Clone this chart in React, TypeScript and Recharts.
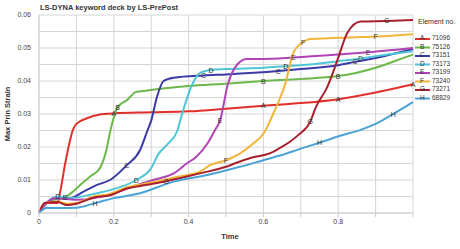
import { LineChart, Line, XAxis, YAxis, CartesianGrid } from "recharts";

// [time, max principal strain] per element
const seriesA = [
  [0, 0], [0.02, 0.003], [0.05, 0.003], [0.056, 0.006], [0.07, 0.015], [0.083, 0.022],
  [0.09, 0.025], [0.1, 0.027], [0.13, 0.0288], [0.16, 0.0298], [0.2, 0.0302], [0.3, 0.0305],
  [0.4, 0.0308], [0.5, 0.0316], [0.6, 0.0325], [0.7, 0.0333], [0.8, 0.0345], [0.9, 0.0365], [1, 0.039],
];
const seriesB = [
  [0, 0], [0.02, 0.003], [0.04, 0.004], [0.07, 0.0048], [0.09, 0.0064], [0.11, 0.0085],
  [0.136, 0.011], [0.163, 0.0136], [0.18, 0.019], [0.19, 0.0245], [0.2, 0.029], [0.21, 0.032],
  [0.235, 0.0342], [0.26, 0.0367], [0.28, 0.037], [0.32, 0.0376], [0.4, 0.0385], [0.5, 0.0392],
  [0.6, 0.04], [0.7, 0.0406], [0.8, 0.0415], [0.85, 0.0425], [0.9, 0.044], [0.95, 0.046], [1, 0.048],
];
const seriesC = [
  [0, 0], [0.02, 0.003], [0.04, 0.0045], [0.083, 0.0045], [0.118, 0.0064], [0.155, 0.0085],
  [0.19, 0.01], [0.235, 0.0145], [0.27, 0.019], [0.29, 0.025], [0.3, 0.028], [0.315, 0.035],
  [0.333, 0.04], [0.36, 0.041], [0.44, 0.0417], [0.5, 0.042], [0.64, 0.043], [0.7, 0.0436],
  [0.8, 0.0448], [0.845, 0.0458], [0.9, 0.047], [1, 0.0497],
];
const seriesD = [
  [0, 0], [0.02, 0.003], [0.05, 0.005], [0.08, 0.0045], [0.155, 0.006], [0.21, 0.0076],
  [0.26, 0.01], [0.3, 0.0136], [0.32, 0.018], [0.345, 0.021], [0.37, 0.025], [0.38, 0.029],
  [0.41, 0.039], [0.43, 0.0424], [0.46, 0.0433], [0.5, 0.0436], [0.6, 0.044], [0.66, 0.0445],
  [0.7, 0.0448], [0.8, 0.046], [0.86, 0.0468], [0.9, 0.0475], [1, 0.049],
];
const seriesE = [
  [0, 0], [0.02, 0.003], [0.04, 0.0045], [0.1, 0.004], [0.2, 0.006], [0.25, 0.008],
  [0.305, 0.01], [0.36, 0.012], [0.395, 0.015], [0.42, 0.017], [0.45, 0.021], [0.47, 0.025],
  [0.484, 0.028], [0.505, 0.039], [0.53, 0.045], [0.556, 0.0467], [0.6, 0.0467], [0.68, 0.0471],
  [0.8, 0.048], [0.88, 0.0487], [1, 0.05],
];
const seriesF = [
  [0, 0], [0.015, 0.003], [0.05, 0.0035], [0.075, 0.0028], [0.1, 0.003], [0.145, 0.005],
  [0.19, 0.0058], [0.235, 0.0078], [0.28, 0.0088], [0.32, 0.0097], [0.37, 0.011], [0.43, 0.0125],
  [0.457, 0.0145], [0.5, 0.016], [0.537, 0.018], [0.572, 0.021], [0.6, 0.024], [0.63, 0.031],
  [0.658, 0.039], [0.68, 0.0485], [0.706, 0.0518], [0.725, 0.0527], [0.86, 0.0533], [0.9, 0.0535], [1, 0.0542],
];
const seriesG = [
  [0, 0], [0.015, 0.003], [0.05, 0.0033], [0.075, 0.0024], [0.1, 0.0028], [0.145, 0.0046],
  [0.19, 0.0054], [0.235, 0.0074], [0.28, 0.0084], [0.34, 0.0096], [0.37, 0.0104], [0.43, 0.012],
  [0.5, 0.014], [0.53, 0.0153], [0.57, 0.0168], [0.62, 0.0182], [0.644, 0.0197], [0.67, 0.0215],
  [0.693, 0.0236], [0.725, 0.0276], [0.74, 0.032], [0.77, 0.038], [0.797, 0.046], [0.824, 0.0545],
  [0.86, 0.058], [0.93, 0.0582], [1, 0.0585],
];
const seriesH = [
  [0, 0], [0.02, 0.0015], [0.05, 0.0015], [0.1, 0.0016], [0.15, 0.003], [0.2, 0.0045],
  [0.27, 0.006], [0.36, 0.0095], [0.45, 0.0115], [0.537, 0.014], [0.6, 0.016], [0.644, 0.0174],
  [0.7, 0.0195], [0.75, 0.0213], [0.805, 0.0234], [0.86, 0.0252], [0.9, 0.027], [0.947, 0.03], [1, 0.0336],
];

const elements = [
  { letter: "A", id: "71096", color: "#e0302c", data: seriesA, marks: [0.2, 0.6, 0.8, 1] },
  { letter: "B", id: "75126", color: "#6cb84a", data: seriesB, marks: [0.07, 0.21, 0.6, 0.8] },
  { letter: "C", id: "73151", color: "#3a3aa6", data: seriesC, marks: [0.235, 0.44, 0.64, 0.845] },
  { letter: "D", id: "73173", color: "#4ec6d6", data: seriesD, marks: [0.05, 0.26, 0.46, 0.66, 0.86] },
  { letter: "E", id: "73199", color: "#b044b4", data: seriesE, marks: [0.484, 0.68, 0.88] },
  { letter: "F", id: "73240", color: "#f2b43a", data: seriesF, marks: [0.5, 0.706, 0.9] },
  { letter: "G", id: "73271", color: "#a8202e", data: seriesG, marks: [0.34, 0.725, 0.93] },
  { letter: "H", id: "68829", color: "#4aa2d6", data: seriesH, marks: [0.15, 0.75, 0.947] },
];

const xTicks = [0, 0.1, 0.2, 0.3, 0.4, 0.5, 0.6, 0.7, 0.8, 0.9, 1];
const yTicks = [0, 0.005, 0.01, 0.015, 0.02, 0.025, 0.03, 0.035, 0.04, 0.045, 0.05, 0.055, 0.06];

const font = "Arial, 'Liberation Sans', sans-serif";

const letterDot = (letter: string, marks: number[]) => (props: any) => {
  const { cx, cy, payload, index } = props;
  if (!marks.includes(payload.t)) return <g key={index} />;
  return (
    <text key={index} x={cx} y={cy} dy={2.5} fontSize={7} textAnchor="middle" fill="#333" fontFamily={font}>
      {letter}
    </text>
  );
};

export default function App() {
  return (
    <div style={{ position: "absolute", left: 0, top: 0, width: 460, height: 249, background: "#fff", fontFamily: font }}>
      <LineChart width={460} height={249} margin={{ top: 15, right: 47, left: 9, bottom: 16 }}>
        <CartesianGrid stroke="#d6d6d6" />
        <XAxis
          type="number"
          dataKey="t"
          domain={[0, 1]}
          ticks={xTicks}
          tickFormatter={(v: number) => (Math.round(v * 10) % 2 === 0 && v < 1 ? (v === 0 ? "0" : String(v)) : "")}
          tick={{ fontSize: 7, fill: "#444", fontFamily: font }}
          tickLine={{ stroke: "#ccc" }}
          tickSize={4}
          axisLine={{ stroke: "#ccc" }}
          height={20}
        />
        <YAxis
          type="number"
          domain={[0, 0.06]}
          ticks={yTicks}
          tickFormatter={(v: number) => (Math.round(v * 1000) % 10 === 0 ? (v === 0 ? "0" : v.toFixed(2)) : "")}
          tick={{ fontSize: 7, fill: "#444", fontFamily: font }}
          tickLine={false}
          axisLine={{ stroke: "#ccc" }}
          width={30}
        />
        {elements.map((el) => (
          <Line
            key={el.letter}
            type="monotone"
            data={el.data.map(([t, v]) => ({ t, v }))}
            dataKey="v"
            stroke={el.color}
            strokeWidth={2}
            dot={letterDot(el.letter, el.marks)}
            activeDot={false}
            isAnimationActive={false}
          />
        ))}
        <text x={40} y={10} fontSize={7.5} fontWeight="bold" fill="#333" fontFamily={font}>
          LS-DYNA keyword deck by LS-PrePost
        </text>
        <text x={230} y={239} fontSize={7.5} fontWeight="bold" fill="#333" textAnchor="middle" fontFamily={font}>
          Time
        </text>
        <text
          x={10}
          y={114}
          fontSize={7.5}
          fontWeight="bold"
          fill="#333"
          textAnchor="middle"
          transform="rotate(-90 10 114)"
          fontFamily={font}
        >
          Max Prin Strain
        </text>
      </LineChart>
      <svg style={{ position: "absolute", left: 414, top: 14 }} width={46} height={95}>
        <text x={4} y={10} fontSize={7} fill="#333" fontFamily={font}>
          Element no.
        </text>
        {elements.map((el, i) => {
          const y = 25 + i * 8.5;
          return (
            <g key={el.letter}>
              <line x1={1} x2={16} y1={y} y2={y} stroke={el.color} strokeWidth={2} />
              <text x={6} y={y + 1} fontSize={6.5} fill="#333" fontFamily={font}>
                {el.letter}
              </text>
              <text x={18} y={y + 1} fontSize={6.5} fill="#333" fontFamily={font}>
                {el.id}
              </text>
            </g>
          );
        })}
      </svg>
    </div>
  );
}
